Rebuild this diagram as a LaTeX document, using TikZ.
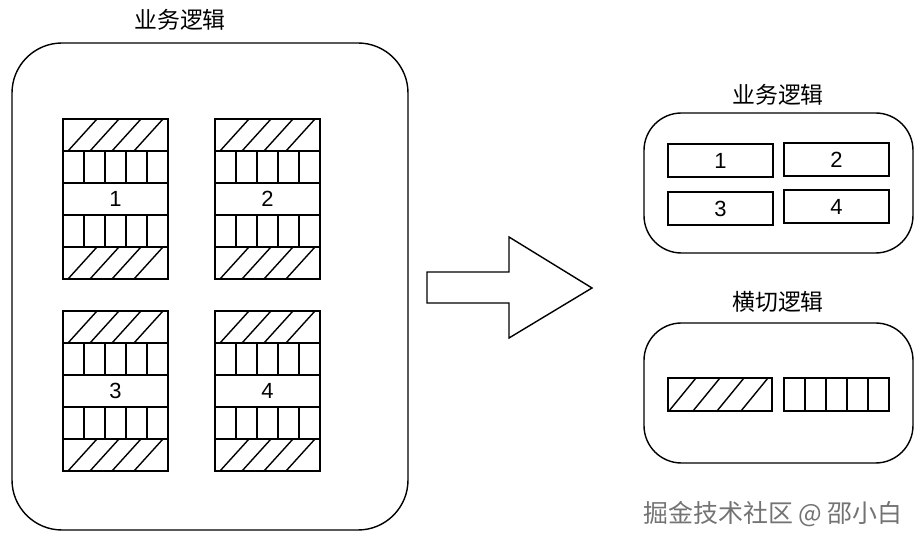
\documentclass[tikz,border=0pt]{standalone}
\usepackage{fontspec}
\setmainfont{Liberation Sans}
\newfontfamily\cjk{Noto Sans CJK SC}
\usepackage{tikz}

\begin{document}
\begin{tikzpicture}[x=0.02cm,y=-0.02cm,line width=0.8pt,
	num/.style={font=\fontsize{12.5}{14}\selectfont},
	title/.style={font=\cjk\fontsize{13}{15}\selectfont}]
\useasboundingbox (0,0) rectangle (921,543);
% left side
\node[title] (lefttitle) at (180,20) {业务逻辑};
\draw[rounded corners=1cm] (12,43) rectangle (408,530);
\foreach \x/\y/\n in {63/119/1,215/119/2,63/311/3,215/311/4} {
		\draw (\x,\y) rectangle (\x+105,\y+160);
		\foreach \r in {32,64,96,128}
			\draw (\x,\y+\r) -- (\x+105,\y+\r);
		\foreach \h in {5,27,49,71} {
			\draw (\x+\h,\y+32) -- (\x+\h+29,\y);
			\draw (\x+\h,\y+160) -- (\x+\h+29,\y+128);}
		\foreach \v in {21,42,63,84} {
			\draw (\x+\v,\y+32) -- (\x+\v,\y+64);
			\draw (\x+\v,\y+96) -- (\x+\v,\y+128);}
		\node[num] (block\n) at (\x+52.5,\y+80) {\n};}
% arrow
\draw (427,272) -- (509,272) -- (509,237) -- (592,288) -- (509,338)
	-- (509,303) -- (427,303) -- cycle;
% right side
\node[title] (bizitle) at (778,95) {业务逻辑};
\draw[rounded corners=0.75cm] (644,113) rectangle (913,253);
\foreach \x/\y/\n in {668/144/1,784/143/2,668/192/3,784/190/4} {
		\draw (\x,\y) rectangle (\x+105,\y+33);
		\node[num] (biz\n) at (\x+52.5,\y+16.5) {\n};}
\node[title] (crosstitle) at (778,302) {横切逻辑};
\draw[rounded corners=0.75cm] (644,323) rectangle (913,463);
\draw (668,378) rectangle (772,411);
\foreach \h in {1,25,49,73}
		\draw (668+\h,411) -- (668+\h+27,378);
\draw (784,378) rectangle (889,411);
\foreach \v in {21,42,63,84}
		\draw (784+\v,378) -- (784+\v,411);
% watermark
\node[font=\cjk\fontsize{14.2}{16}\selectfont,text=black!55] (mark) at (773,514) {掘金技术社区 @ 邵小白};
\end{tikzpicture}
\end{document}
